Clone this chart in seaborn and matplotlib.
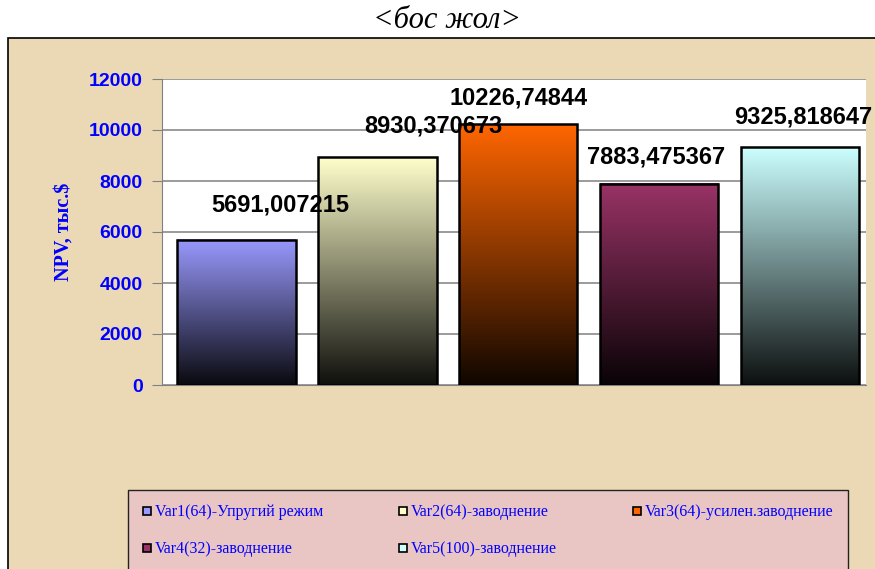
import numpy as np
import matplotlib
matplotlib.use("Agg")
import matplotlib.pyplot as plt
import seaborn as sns
from matplotlib.patches import Rectangle
from matplotlib.lines import Line2D
from matplotlib.colors import LinearSegmentedColormap, to_rgb

# data
categories = ["Var1(64)-Упругий режим", "Var2(64)-заводнение", "Var3(64)-усилен.заводнение",
              "Var4(32)-заводнение", "Var5(100)-заводнение"]
npv = [5691.007215, 8930.370673, 10226.74844, 7883.475367, 9325.818647]
colors = ["#9999FF", "#FFFFCC", "#FF6600", "#993366", "#CCFFFF"]
y_ticks = [0, 2000, 4000, 6000, 8000, 10000, 12000]

# label offsets in pixels (dx, dy) as placed in the original
label_dx = [44, 56, 0, -3, 3]
label_dy = [35, 31, 26, 27, 30]

W, H = 875, 569
fig = plt.figure(figsize=(W / 100, H / 100), dpi=100)
fig.patch.set_facecolor("white")

# beige panel
fig.add_artist(Rectangle((8 / W, -0.01), 1.0, (H - 38) / H + 0.01, transform=fig.transFigure,
                         facecolor="#EBD9B6", edgecolor="black", lw=1.2, zorder=0))

fig.text(447 / W, 1 - 21 / H, "<бос жол>", ha="center", va="center",
         fontstyle="italic", family="Liberation Serif", fontsize=22)

ax = fig.add_axes([162 / W, 184 / H, 704 / W, 306 / H])
ax.set_facecolor("white")

sns.barplot(x=categories, y=npv, hue=categories, palette=colors, width=0.84,
            edgecolor="black", linewidth=1.8, legend=False, ax=ax, zorder=3)

# gradient fill: colour at top fading to black at bottom
for patch, c in zip(ax.patches, colors):
    x0, w, h = patch.get_x(), patch.get_width(), patch.get_height()
    rgb = np.array(to_rgb(c))
    cmap = LinearSegmentedColormap.from_list("g", [rgb * 0.06, rgb])
    grad = np.linspace(0, 1, 256).reshape(-1, 1)
    ax.imshow(grad, extent=[x0, x0 + w, 0, h], origin="lower", aspect="auto",
              cmap=cmap, zorder=2.5)
    patch.set_facecolor("none")

ax.set_xlim(-0.53, 4.47)
ax.set_ylim(0, 12000)
ax.set_yticks(y_ticks)
ax.set_xticks([])
ax.grid(axis="y", color="#808080", lw=1.1, zorder=1)
ax.set_axisbelow(True)
for s in ["top", "right"]:
    ax.spines[s].set_visible(False)
ax.spines["left"].set_color("#808080")
ax.spines["bottom"].set_color("#808080")
ax.tick_params(axis="y", length=7, color="#808080", pad=7, labelsize=14,
               labelcolor="#0000FF")
for t in ax.get_yticklabels():
    t.set_fontweight("bold")
    t.set_family("Liberation Sans")

ax.set_ylabel("NPV, тыс.$", color="#0000FF", fontweight="bold",
              family="Liberation Serif", fontsize=14.5)
ax.yaxis.set_label_coords(-0.125, 0.5)

for i, v in enumerate(npv):
    ax.annotate(str(v).replace(".", ","), xy=(i, v), xytext=(label_dx[i], label_dy[i]),
                textcoords="offset pixels", ha="center", va="center",
                fontsize=17, fontweight="bold", family="Liberation Sans",
                annotation_clip=False, zorder=5)

# legend filled row by row like the original (matplotlib fills by column)
order = [0, 3, 1, 4, 2]
handles = [Line2D([0], [0], marker="s", linestyle="none", markersize=6,
                  markerfacecolor=colors[k], markeredgecolor="black", markeredgewidth=1.2)
           for k in order]
labels = [categories[k] for k in order]
leg = fig.legend(handles, labels, loc="upper left", ncol=3, mode="expand",
                 bbox_to_anchor=(128 / W, 0, 720 / W, 79 / H),
                 prop={"family": "Liberation Serif", "size": 11.5},
                 handlelength=0.6, handletextpad=0.2, labelspacing=1.3,
                 borderpad=0.9, borderaxespad=0, fancybox=False,
                 facecolor="#E9C6C4", edgecolor="#222222", framealpha=1)
leg.get_frame().set_linewidth(1.0)
for t in leg.get_texts():
    t.set_color("#0000FF")

fig.savefig("out.png", dpi=100)
